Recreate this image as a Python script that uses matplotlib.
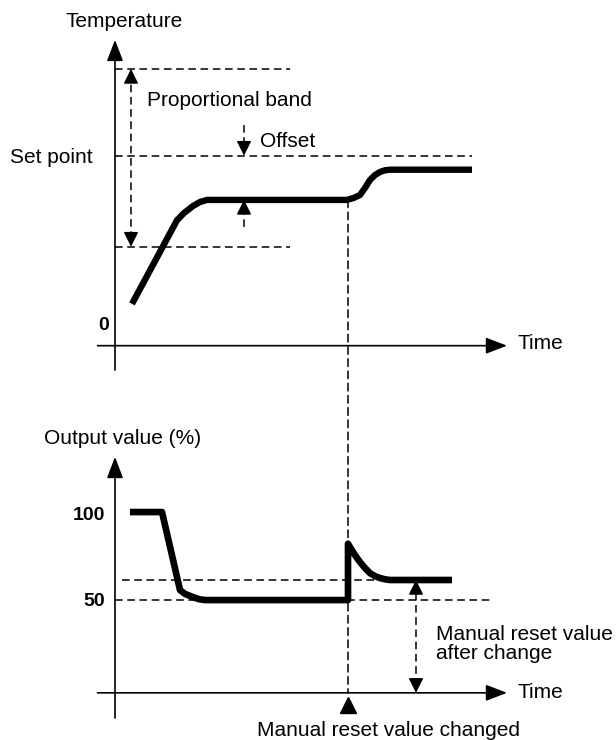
import matplotlib.pyplot as plt
from matplotlib.patches import ConnectionPatch

plt.rcParams['font.family'] = ['Liberation Sans', 'DejaVu Sans']

# top chart: temperature response (time in arbitrary units)
temp_time = [1.7, 6.2, 6.9, 7.8, 8.5, 9.2, 23.2, 23.9, 24.5, 25.0, 25.5, 26.0,
             26.5, 27.0, 27.5, 35.7]
temp_value = [22, 66, 69.8, 73.5, 75.6, 76.7, 76.7, 77.8, 79.3, 83, 87.2, 89.8,
              91.4, 92.3, 92.6, 92.6]
set_point = 100
band_top = 145.6
band_bottom = 52.1
steady_temp = 76.7

# bottom chart: output value (%)
out_time = [1.5, 4.7, 6.5, 7.0, 7.8, 8.4, 9.0, 23.3, 23.3, 23.5, 24.0, 24.5,
            25.0, 25.5, 26.0, 26.5, 27.0, 27.5, 33.7]
out_value = [100, 100, 55.7, 53.5, 51.7, 50.5, 50, 50, 82, 80.1, 75.5, 71.6,
             68.2, 65.3, 63.6, 62.5, 61.8, 61.4, 61.4]
reset_after = 61.4
reset_before = 50
t_change = 23.3

fig = plt.figure(figsize=(6.16, 7.4), dpi=100)
ax1 = fig.add_axes([0, 0.5, 1, 0.5])
ax2 = fig.add_axes([0, 0, 1, 0.5])
ax1.set_xlim(-11.5, 50.1)
ax1.set_ylim(-12.8, 181.9)
ax2.set_xlim(-11.5, 50.1)
ax2.set_ylim(-29.5, 180.7)
for ax in (ax1, ax2):
    ax.axis('off')

fs = 15
dash = dict(color='black', lw=1.1, dashes=(5, 3))


def axis_arrow(ax, start, tip):
    ax.annotate('', xy=tip, xytext=start,
                arrowprops=dict(arrowstyle='-|>,head_length=1.3,head_width=0.5',
                                mutation_scale=10, lw=1.2, color='black',
                                shrinkA=0, shrinkB=0))


def small_head(ax, tip, up):
    off = (0, -10) if up else (0, 10)
    ax.annotate('', xy=tip, xytext=off, textcoords='offset points',
                arrowprops=dict(arrowstyle='-|>,head_length=0.9,head_width=0.45',
                                mutation_scale=10, lw=1.0, color='black',
                                shrinkA=0, shrinkB=0))


# ---- top panel ----
axis_arrow(ax1, (0, -12.8), (0, 160.9))
axis_arrow(ax1, (-1.75, 0), (39.2, 0))
ax1.plot([0, 17.5], [band_top, band_top], **dash)
ax1.plot([0, 35.7], [set_point, set_point], **dash)
ax1.plot([0, 17.5], [band_bottom, band_bottom], **dash)

# proportional band double arrow
ax1.plot([1.6, 1.6], [band_bottom + 4, band_top - 4], **dash)
small_head(ax1, (1.6, band_top), True)
small_head(ax1, (1.6, band_bottom), False)

# offset arrows
ax1.plot([12.9, 12.9], [116, set_point + 4], **dash)
small_head(ax1, (12.9, set_point), False)
ax1.plot([12.9, 12.9], [62.5, steady_temp - 4], **dash)
small_head(ax1, (12.9, steady_temp), True)

ax1.plot(temp_time, temp_value, color='black', lw=4.6,
         solid_joinstyle='round', solid_capstyle='butt')

ax1.text(-5, 170.4, 'Temperature', fontsize=fs, va='center', ha='left')
ax1.text(3.2, 128.8, 'Proportional band', fontsize=fs, va='center', ha='left')
ax1.text(14.5, 107.7, 'Offset', fontsize=fs, va='center', ha='left')
ax1.text(-10.5, 98.8, 'Set point', fontsize=fs, va='center', ha='left')
ax1.text(-1.1, 10.5, '0', fontsize=fs - 1, va='center', ha='center', fontweight='bold')
ax1.text(40.3, 0.9, 'Time', fontsize=fs, va='center', ha='left')

# ---- bottom panel ----
axis_arrow(ax2, (0, -17), (0, 131.3))
axis_arrow(ax2, (-1.75, -2.7), (39.2, -2.7))
ax2.plot([0, 37.8], [reset_before, reset_before], **dash)
ax2.plot([0.7, 26], [reset_after, reset_after], **dash)

ax2.plot([30.1, 30.1], [-2.7 + 4, reset_after - 4], **dash)
small_head(ax2, (30.1, reset_after), True)
small_head(ax2, (30.1, -2.7), False)

ax2.plot(out_time, out_value, color='black', lw=4.8,
         solid_joinstyle='round', solid_capstyle='butt')

ax2.plot([t_change], [-9.7], marker='^', markersize=11, color='black')

con = ConnectionPatch(xyA=(t_change, steady_temp), coordsA=ax1.transData,
                      xyB=(t_change, -2.7), coordsB=ax2.transData,
                      color='black', lw=1.1, linestyle=(0, (5, 3)))
fig.add_artist(con)

ax2.text(-7.1, 142, 'Output value (%)', fontsize=fs, va='center', ha='left')
ax2.text(-1.0, 98.3, '100', fontsize=fs - 1, va='center', ha='right', fontweight='bold')
ax2.text(-1.0, 49.4, '50', fontsize=fs - 1, va='center', ha='right', fontweight='bold')
ax2.text(32.1, 25, 'Manual reset value\nafter change', fontsize=fs,
         va='center', ha='left', linespacing=1.0)
ax2.text(40.3, -2.3, 'Time', fontsize=fs, va='center', ha='left')
ax2.text(27.4, -23.9, 'Manual reset value changed', fontsize=fs, va='center', ha='center')

fig.savefig('out.png', dpi=100)
